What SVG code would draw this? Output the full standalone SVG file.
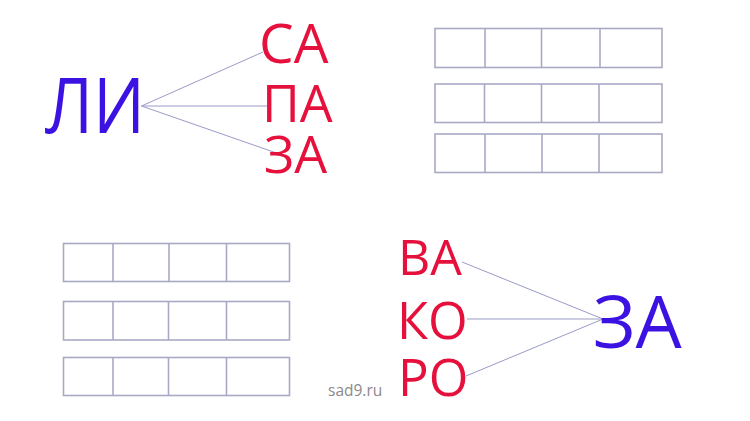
<svg xmlns="http://www.w3.org/2000/svg" width="750" height="421" viewBox="0 0 750 421">
<style>
.red{fill:#e5103c;font-family:"Open Sans","DejaVu Sans",sans-serif;}
.blue{fill:#3c12e2;font-family:"Open Sans","DejaVu Sans",sans-serif;}
.cell{fill:none;stroke:#a9a9c6;stroke-width:1.6;}
.conn line{stroke:#9a9ac8;stroke-width:1;}
.wm{fill:#8a8a8a;font-family:"Open Sans","DejaVu Sans",sans-serif;font-size:15.5px;}
</style>
<rect width="750" height="421" fill="#fff"/>
<g id="connectors" class="conn">
<line x1="141.5" y1="106" x2="263" y2="52"/>
<line x1="141.5" y1="106" x2="267" y2="106"/>
<line x1="141.5" y1="106" x2="275" y2="152.5"/>
<line x1="462" y1="262" x2="603" y2="319"/>
<line x1="467" y1="319" x2="603" y2="319"/>
<line x1="466" y1="376" x2="603" y2="319"/>
</g>
<g id="node-li"><text class="blue" x="45" y="133" font-size="77" font-weight="500" textLength="100" lengthAdjust="spacingAndGlyphs">ЛИ</text></g>
<g id="node-sa"><text class="red" x="259" y="63" font-size="55">СА</text></g>
<g id="node-pa"><text class="red" x="262" y="122" font-size="52">ПА</text></g>
<g id="node-za1"><text class="red" x="264" y="173" font-size="52">ЗА</text></g>
<g id="grid-top-right">
<rect class="cell" x="435" y="28.5" width="227" height="39"/>
<line class="cell" x1="485" y1="28.5" x2="485" y2="67.5"/>
<line class="cell" x1="541.5" y1="28.5" x2="541.5" y2="67.5"/>
<line class="cell" x1="600" y1="28.5" x2="600" y2="67.5"/>
<rect class="cell" x="435" y="84" width="227" height="38.5"/>
<line class="cell" x1="484.5" y1="84" x2="484.5" y2="122.5"/>
<line class="cell" x1="541.5" y1="84" x2="541.5" y2="122.5"/>
<line class="cell" x1="599" y1="84" x2="599" y2="122.5"/>
<rect class="cell" x="435" y="134" width="227" height="38.5"/>
<line class="cell" x1="485" y1="134" x2="485" y2="172.5"/>
<line class="cell" x1="542" y1="134" x2="542" y2="172.5"/>
<line class="cell" x1="599" y1="134" x2="599" y2="172.5"/>
</g>
<g id="grid-bottom-left">
<rect class="cell" x="63.5" y="243.5" width="226" height="38"/>
<line class="cell" x1="113" y1="243.5" x2="113" y2="281.5"/>
<line class="cell" x1="169" y1="243.5" x2="169" y2="281.5"/>
<line class="cell" x1="226.5" y1="243.5" x2="226.5" y2="281.5"/>
<rect class="cell" x="63.5" y="301.5" width="226" height="38.5"/>
<line class="cell" x1="113" y1="301.5" x2="113" y2="340"/>
<line class="cell" x1="168.5" y1="301.5" x2="168.5" y2="340"/>
<line class="cell" x1="226.5" y1="301.5" x2="226.5" y2="340"/>
<rect class="cell" x="63.5" y="357.5" width="226" height="38"/>
<line class="cell" x1="113" y1="357.5" x2="113" y2="395.5"/>
<line class="cell" x1="168.5" y1="357.5" x2="168.5" y2="395.5"/>
<line class="cell" x1="226.5" y1="357.5" x2="226.5" y2="395.5"/>
</g>
<g id="node-va"><text class="red" x="398" y="275" font-size="50">ВА</text></g>
<g id="node-ko"><text class="red" x="397" y="339" font-size="51">КО</text></g>
<g id="node-ro"><text class="red" x="398" y="396" font-size="51">РО</text></g>
<g id="node-za2"><text class="blue" x="593" y="348" font-size="73">ЗА</text></g>
<text class="wm" x="328" y="396">sad9.ru</text>
</svg>
